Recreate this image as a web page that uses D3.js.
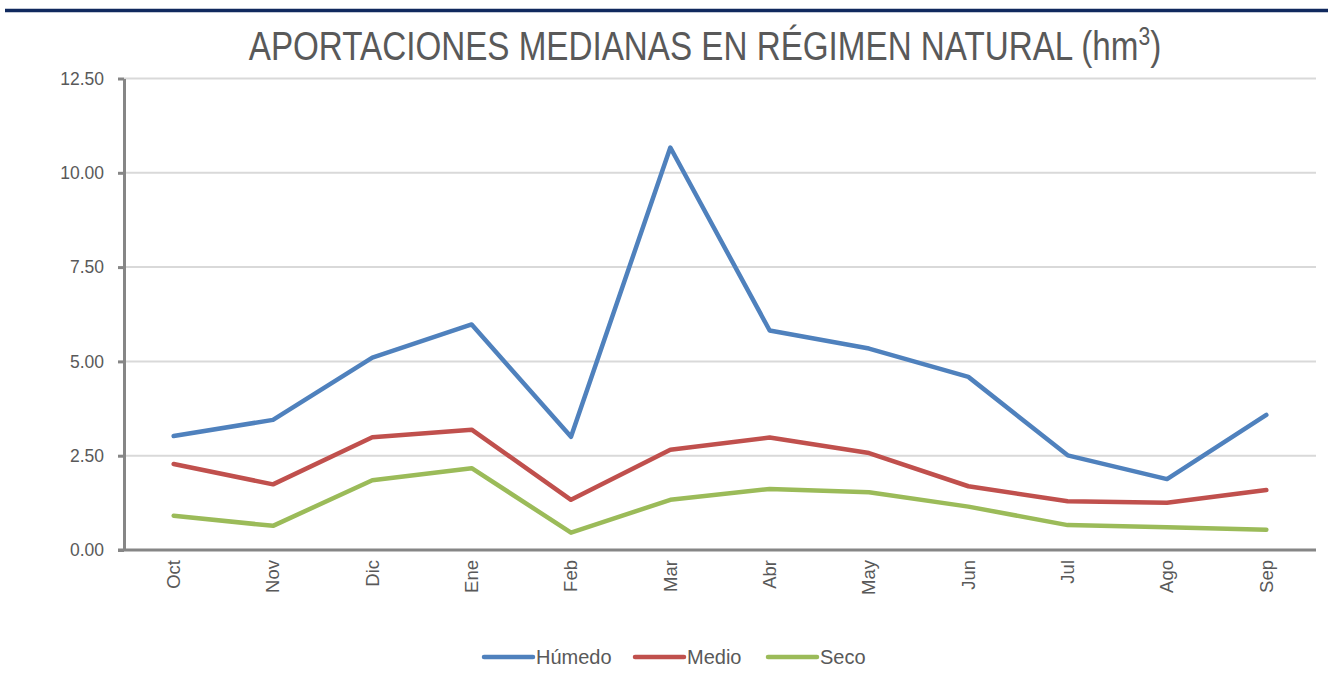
<!DOCTYPE html>
<html><head><meta charset="utf-8">
<script src="https://cdn.jsdelivr.net/npm/d3@7"></script>
<style>body{margin:0;background:#fff;} svg{display:block;}</style>
</head><body>
<script>
const categories = ["Oct","Nov","Dic","Ene","Feb","Mar","Abr","May","Jun","Jul","Ago","Sep"];
const humedo = [3.02,3.45,5.10,5.98,3.00,10.67,5.82,5.34,4.59,2.51,1.88,3.58];
const medio  = [2.28,1.74,2.99,3.19,1.33,2.66,2.98,2.57,1.69,1.29,1.25,1.59];
const seco   = [0.91,0.64,1.85,2.17,0.46,1.33,1.62,1.53,1.15,0.66,0.60,0.54];
const seriesNames = ["Húmedo","Medio","Seco"];
const seriesColors = ["#4f81bd","#c0504d","#9bbb59"];
const yTicks = [0,2.5,5,7.5,10,12.5];

(function(){
const W=1328,H=683;
const svg=d3.select("body").append("svg").attr("width",W).attr("height",H);
svg.append("line").attr("x1",5).attr("x2",W).attr("y1",10.5).attr("y2",10.5).attr("stroke","#10295e").attr("stroke-width",3.5);

// title, horizontally condensed to match the narrow face of the reference
const tg=svg.append("g").attr("transform","translate(705,60) scale(0.81,1)");
const title=tg.append("text").attr("x",0).attr("y",0).attr("text-anchor","middle")
 .attr("font-family","'Liberation Sans','Arial',sans-serif").attr("font-size",41).attr("fill","#595959");
title.append("tspan").text("APORTACIONES MEDIANAS EN RÉGIMEN NATURAL (hm");
title.append("tspan").attr("font-size",26).attr("dy",-15).text("3");
title.append("tspan").attr("dy",15).text(")");

const mLeft=124,mRight=1316,mTop=78.5,mBottom=550;
const x=d3.scaleBand().domain(categories).range([mLeft,mRight]);
const y=d3.scaleLinear().domain([0,12.5]).range([mBottom,mTop]);
const font="'Liberation Sans','Arial',sans-serif";

svg.append("g").selectAll("line").data(yTicks.slice(1)).join("line")
 .attr("x1",mLeft).attr("x2",mRight).attr("y1",d=>y(d)).attr("y2",d=>y(d)).attr("stroke","#d9d9d9").attr("stroke-width",2);

const ya=svg.append("g").attr("transform",`translate(${mLeft},0)`)
 .call(d3.axisLeft(y).tickValues(yTicks).tickFormat(d3.format(".2f")).tickSize(6).tickSizeOuter(0));
ya.select(".domain").attr("stroke","#868686").attr("stroke-width",3);
ya.selectAll(".tick line").attr("stroke","#868686").attr("stroke-width",3);
ya.selectAll(".tick text").attr("font-family",font).attr("font-size",17.5).attr("fill","#595959").attr("x",-20);

const xa=svg.append("g").attr("transform",`translate(0,${mBottom})`)
 .call(d3.axisBottom(x).tickSize(0).tickSizeOuter(0));
xa.select(".domain").attr("stroke","#868686").attr("stroke-width",3).attr("d",`M${mLeft-6},0H${mRight}`);
xa.selectAll(".tick text").attr("font-family",font).attr("font-size",18.5).attr("fill","#595959")
 .attr("transform","rotate(-90)").attr("text-anchor","end").attr("x",-10).attr("y",0).attr("dy","0.35em");

const data=[humedo,medio,seco];
const line=d3.line().x((d,i)=>x(categories[i])+x.bandwidth()/2).y(d=>y(d));
svg.append("g").selectAll("path").data(data).join("path")
 .attr("d",line).attr("fill","none").attr("stroke",(d,i)=>seriesColors[i]).attr("stroke-width",4.5)
 .attr("stroke-linecap","round").attr("stroke-linejoin","round");

const legX=[484,635,768];
const lg=svg.append("g").selectAll("g").data(seriesNames).join("g").attr("transform",(d,i)=>`translate(${legX[i]},657)`);
lg.append("line").attr("x1",0).attr("x2",49).attr("stroke",(d,i)=>seriesColors[i]).attr("stroke-width",4.5).attr("stroke-linecap","round");
lg.append("text").attr("x",52).attr("dy","0.35em").attr("font-family",font).attr("font-size",20).attr("fill","#595959").text(d=>d);
})();
</script>
</body></html>
